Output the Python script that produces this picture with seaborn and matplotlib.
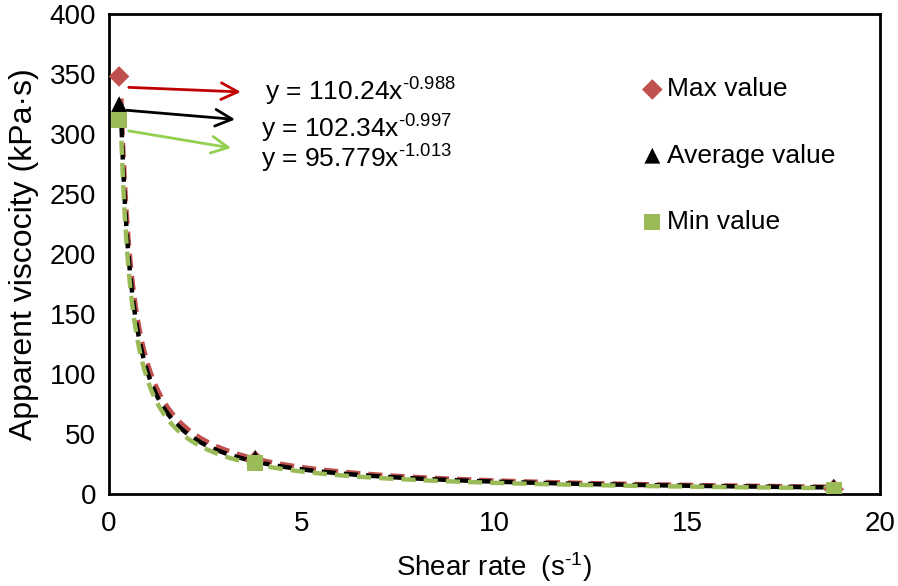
import numpy as np
import pandas as pd
import matplotlib
matplotlib.use("Agg")
import matplotlib.pyplot as plt
import seaborn as sns

# ---- data ----
shear_rate = [0.27, 3.8, 18.8]
max_value = [348, 28, 4.0]
avg_value = [325, 30, 6.0]
min_value = [312, 26, 3.5]

series_names = ["Max value", "Average value", "Min value"]
fit_coef = [110.24, 102.34, 95.779]
fit_exp = [-0.988, -0.997, -1.013]
fit_labels = [r"y = 110.24x$^{\text{-0.988}}$",
              r"y = 102.34x$^{\text{-0.997}}$",
              r"y = 95.779x$^{\text{-1.013}}$"]
x_ticks = [0, 5, 10, 15, 20]
y_ticks = [0, 50, 100, 150, 200, 250, 300, 350, 400]

marker_colors = ["#C0504D", "#000000", "#9BBB59"]
arrow_colors = ["#C00000", "#000000", "#92D050"]
markers = ["D", "^", "s"]

sns.set_theme(style="white")
plt.rcParams["font.family"] = ["Liberation Sans", "DejaVu Sans"]
plt.rcParams["mathtext.fontset"] = "custom"
plt.rcParams["mathtext.rm"] = "Liberation Sans"
plt.rcParams["mathtext.it"] = "Liberation Sans"

fig = plt.figure(figsize=(8.98, 5.86), dpi=100)
ax = fig.add_axes([0.121, 0.157, 0.859, 0.819])

pts = pd.DataFrame({
    "x": shear_rate * 3,
    "y": max_value + avg_value + min_value,
    "series": sum([[n] * len(shear_rate) for n in series_names], []),
})

# trendlines (power fits shown in the chart)
xs = np.linspace(0.33, max(shear_rate), 400)
for i, name in enumerate(series_names):
    fit_df = pd.DataFrame({"x": xs, "y": fit_coef[i] * xs ** fit_exp[i]})
    sns.lineplot(data=fit_df, x="x", y="y", ax=ax, color=marker_colors[i],
                 linewidth=3.2, linestyle=(0, (3.2, 1.8)), legend=False, zorder=2)

for i, name in enumerate(series_names):
    sub = pts[pts["series"] == name]
    sz = 130 if markers[i] != "D" else 110
    sns.scatterplot(data=sub, x="x", y="y", ax=ax, marker=markers[i],
                    color=marker_colors[i], s=sz, edgecolor="none",
                    label=name, zorder=3)

# arrows + equations
arrow_start = [(0.45, 339), (0.4, 320), (0.45, 303)]
arrow_end = [(3.5, 335), (3.35, 312), (3.25, 288)]
text_pos = [(4.05, 335), (3.95, 304), (3.95, 279)]
for i in range(3):
    ax.annotate("", xy=arrow_end[i], xytext=arrow_start[i],
                arrowprops=dict(arrowstyle="->,head_length=1.0,head_width=0.5",
                                color=arrow_colors[i], lw=2))
    ax.text(text_pos[i][0], text_pos[i][1], fit_labels[i], fontsize=19,
            va="center", ha="left", color="black")

ax.set_xlim(0, 20)
ax.set_ylim(0, 400)
ax.set_xticks(x_ticks)
ax.set_yticks(y_ticks)
ax.tick_params(axis="both", length=0, labelsize=20, colors="black")
ax.tick_params(axis="y", pad=9)
ax.tick_params(axis="x", pad=12)
ax.set_xlabel(r"Shear rate  (s$^{\text{-1}}$)", fontsize=20, labelpad=10, color="black")
ax.set_ylabel("Apparent viscocity (kPa·s)", fontsize=23, labelpad=8, color="black")
for sp in ax.spines.values():
    sp.set_visible(True)
    sp.set_color("black")
    sp.set_linewidth(2)

leg = ax.legend(loc="upper left", bbox_to_anchor=(0.674, 0.89), frameon=False,
                fontsize=19, labelspacing=1.6, handletextpad=0.05,
                handlelength=1.0, borderaxespad=0)
for t in leg.get_texts():
    t.set_color("black")

fig.savefig("out.png", dpi=100)
